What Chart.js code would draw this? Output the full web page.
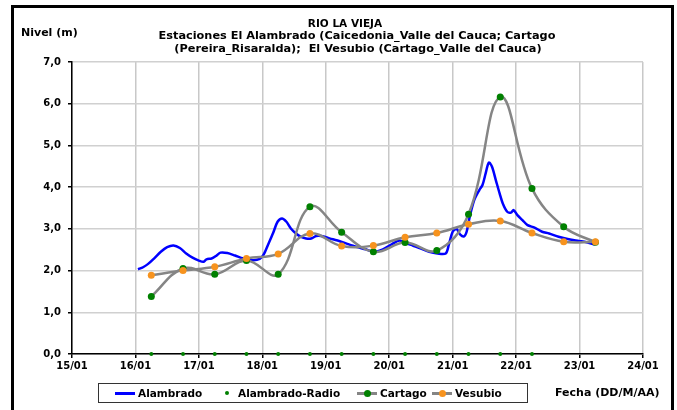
<!DOCTYPE html>
<html>
<head>
<meta charset="utf-8">
<script src="https://cdn.jsdelivr.net/npm/chart.js@4.4.1/dist/chart.umd.min.js"></script>
<style>
  body { margin: 0; background: #fff; }
  #marco { position: relative; width: 677px; height: 410px; overflow: hidden; color: #000;
           font-family: "DejaVu Sans", sans-serif; font-weight: bold; }
  #borde { position: absolute; left: 11px; top: 5px; width: 657px; height: 430px; border: 3px solid #000; }
  #grafico { position: absolute; left: 0; top: 0; }
  .titulo { position: absolute; width: 500px; text-align: center; white-space: nowrap;
            font-size: 11.3px; line-height: 13px; }
  .texto { position: absolute; white-space: nowrap; font-size: 10.5px; line-height: 12px; }
  #leyenda { position: absolute; left: 98px; top: 383px; width: 428px; height: 18px; border: 1px solid #333; }
  .linea { position: absolute; height: 3px; }
  .punto { position: absolute; border-radius: 50%; }
</style>
</head>
<body>
<div id="marco">
  <div id="borde"></div>
  <canvas id="grafico" width="677" height="410"></canvas>

  <div class="titulo" style="left:95px; top:17px; font-size:10.5px;">RIO LA VIEJA</div>
  <div class="titulo" style="left:107px; top:29px;">Estaciones El Alambrado (Caicedonia_Valle del Cauca; Cartago</div>
  <div class="titulo" style="left:108px; top:42px;">(Pereira_Risaralda);&nbsp; El Vesubio (Cartago_Valle del Cauca)</div>

  <div class="texto" style="left:21px; top:27px; font-size:11px;">Nivel (m)</div>
  <div class="texto" style="left:555px; top:387px; font-size:11px;">Fecha (DD/M/AA)</div>

  <div id="leyenda">
    <div class="linea" style="left:16px; top:8px; width:20px; background:#0000ff;"></div>
    <div class="texto" style="left:39px; top:3px;">Alambrado</div>
    <div class="punto" style="left:126px; top:7px; width:4px; height:4px; background:#008000;"></div>
    <div class="texto" style="left:139px; top:3px;">Alambrado-Radio</div>
    <div class="linea" style="left:258px; top:8px; width:20px; background:#858585;"></div>
    <div class="punto" style="left:265px; top:6px; width:7px; height:7px; background:#008000;"></div>
    <div class="texto" style="left:281px; top:3px;">Cartago</div>
    <div class="linea" style="left:333px; top:8px; width:20px; background:#858585;"></div>
    <div class="punto" style="left:340px; top:6px; width:7px; height:7px; background:#f7931e;"></div>
    <div class="texto" style="left:356px; top:3px;">Vesubio</div>
  </div>
</div>

<script>
// etiquetas de los ejes
const etiquetasX = ["15/01", "16/01", "17/01", "18/01", "19/01", "20/01", "21/01", "22/01", "23/01", "24/01"];
const etiquetasY = ["0,0", "1,0", "2,0", "3,0", "4,0", "5,0", "6,0", "7,0"];

// Alambrado (registro continuo), fecha en dias de enero
const alambradoFecha = [16.04, 16.12, 16.2, 16.3, 16.4, 16.5, 16.6, 16.7, 16.8, 16.9,
    17.0, 17.07, 17.12, 17.2, 17.27, 17.34, 17.45, 17.57, 17.7, 17.85,
    17.96, 18.02, 18.09, 18.17, 18.24, 18.31, 18.38, 18.45, 18.53, 18.61,
    18.69, 18.77, 18.85, 18.93, 19.0, 19.11, 19.21, 19.34, 19.48, 19.63,
    19.76, 19.9, 20.05, 20.16, 20.26, 20.37, 20.5, 20.63, 20.76, 20.89,
    20.94, 21.0, 21.06, 21.12, 21.18, 21.22, 21.27, 21.34, 21.42, 21.47,
    21.52, 21.57, 21.62, 21.68, 21.74, 21.79, 21.86, 21.92, 21.96, 22.02,
    22.1, 22.18, 22.29, 22.41, 22.52, 22.67, 22.83, 22.99, 23.11, 23.22, 23.27];
const alambradoNivel = [2.03, 2.08, 2.16, 2.30, 2.45, 2.56, 2.60, 2.54, 2.41, 2.31,
    2.24, 2.21, 2.27, 2.29, 2.35, 2.43, 2.42, 2.36, 2.29, 2.25,
    2.28, 2.38, 2.62, 2.90, 3.17, 3.25, 3.17, 3.01, 2.89, 2.81,
    2.77, 2.77, 2.83, 2.83, 2.80, 2.75, 2.71, 2.64, 2.57, 2.51,
    2.45, 2.51, 2.64, 2.72, 2.66, 2.60, 2.53, 2.45, 2.41, 2.41,
    2.62, 2.93, 3.00, 2.86, 2.82, 2.93, 3.30, 3.69, 3.93, 4.05,
    4.33, 4.59, 4.49, 4.17, 3.85, 3.61, 3.41, 3.39, 3.45, 3.33,
    3.21, 3.09, 3.03, 2.93, 2.89, 2.81, 2.75, 2.71, 2.68, 2.63, 2.66];

// Alambrado-Radio
const radioFecha = [16.25, 16.75, 17.25, 17.75, 18.25, 18.75, 19.25, 19.75, 20.25, 20.75, 21.25, 21.75, 22.25];
const radioNivel = [0, 0, 0, 0, 0, 0, 0, 0, 0, 0, 0, 0, 0];

// Cartago y Vesubio (cada 12 horas)
const estacionesFecha = [16.25, 16.75, 17.25, 17.75, 18.25, 18.75, 19.25, 19.75, 20.25, 20.75, 21.25, 21.75, 22.25, 22.75, 23.25];
const cartagoNivel = [1.38, 2.05, 1.91, 2.24, 1.91, 3.53, 2.92, 2.45, 2.67, 2.48, 3.35, 6.16, 3.97, 3.05, 2.68];
const vesubioNivel = [1.89, 2.00, 2.09, 2.29, 2.40, 2.89, 2.59, 2.60, 2.80, 2.90, 3.11, 3.19, 2.90, 2.69, 2.69];

const juntar = (fechas, niveles) => fechas.map((f, i) => ({ x: f, y: niveles[i] }));

const fuente = { family: "DejaVu Sans", size: 10, weight: "bold" };

new Chart(document.getElementById("grafico"), {
    type: "line",
    data: {
        datasets: [
            {
                label: "Alambrado",
                data: juntar(alambradoFecha, alambradoNivel),
                borderColor: "#0000ff",
                borderWidth: 2.5,
                pointRadius: 0,
                tension: 0.3,
                order: 4
            },
            {
                label: "Alambrado-Radio",
                data: juntar(radioFecha, radioNivel),
                showLine: false,
                pointRadius: 2,
                pointBorderWidth: 0,
                pointBackgroundColor: "#008000",
                borderColor: "#008000",
                clip: false,
                order: 3
            },
            {
                label: "Cartago",
                data: juntar(estacionesFecha, cartagoNivel),
                borderColor: "#858585",
                borderWidth: 2.5,
                pointRadius: 3.5,
                pointBorderWidth: 0,
                pointBackgroundColor: "#008000",
                tension: 0.4,
                order: 2
            },
            {
                label: "Vesubio",
                data: juntar(estacionesFecha, vesubioNivel),
                borderColor: "#858585",
                borderWidth: 2.5,
                pointRadius: 3.5,
                pointBorderWidth: 0,
                pointBackgroundColor: "#f7931e",
                tension: 0.4,
                order: 1
            }
        ]
    },
    options: {
        responsive: false,
        animation: false,
        layout: { padding: { top: 62, right: 34, bottom: 0, left: 0 } },
        plugins: {
            legend: { display: false },
            title: { display: false },
            tooltip: { enabled: false }
        },
        scales: {
            x: {
                type: "linear",
                min: 15,
                max: 24,
                afterFit: (escala) => { escala.height = 56; },
                ticks: {
                    stepSize: 1,
                    autoSkip: false,
                    maxRotation: 0,
                    padding: 2,
                    color: "#000",
                    font: fuente,
                    callback: (v) => etiquetasX[Math.round(v - 15)]
                },
                grid: { color: "#c8c8c8", lineWidth: 1.5, tickColor: "#000", tickLength: 4 },
                border: { color: "#000", width: 1.5 }
            },
            y: {
                min: 0,
                max: 7,
                afterFit: (escala) => { escala.width = 72; },
                ticks: {
                    stepSize: 1,
                    padding: 7,
                    color: "#000",
                    font: fuente,
                    callback: (v) => etiquetasY[Math.round(v)]
                },
                grid: { color: "#d0d0d0", lineWidth: 1.5, tickColor: "#000", tickLength: 4 },
                border: { color: "#000", width: 1.5 }
            }
        }
    }
});
</script>
</body>
</html>
